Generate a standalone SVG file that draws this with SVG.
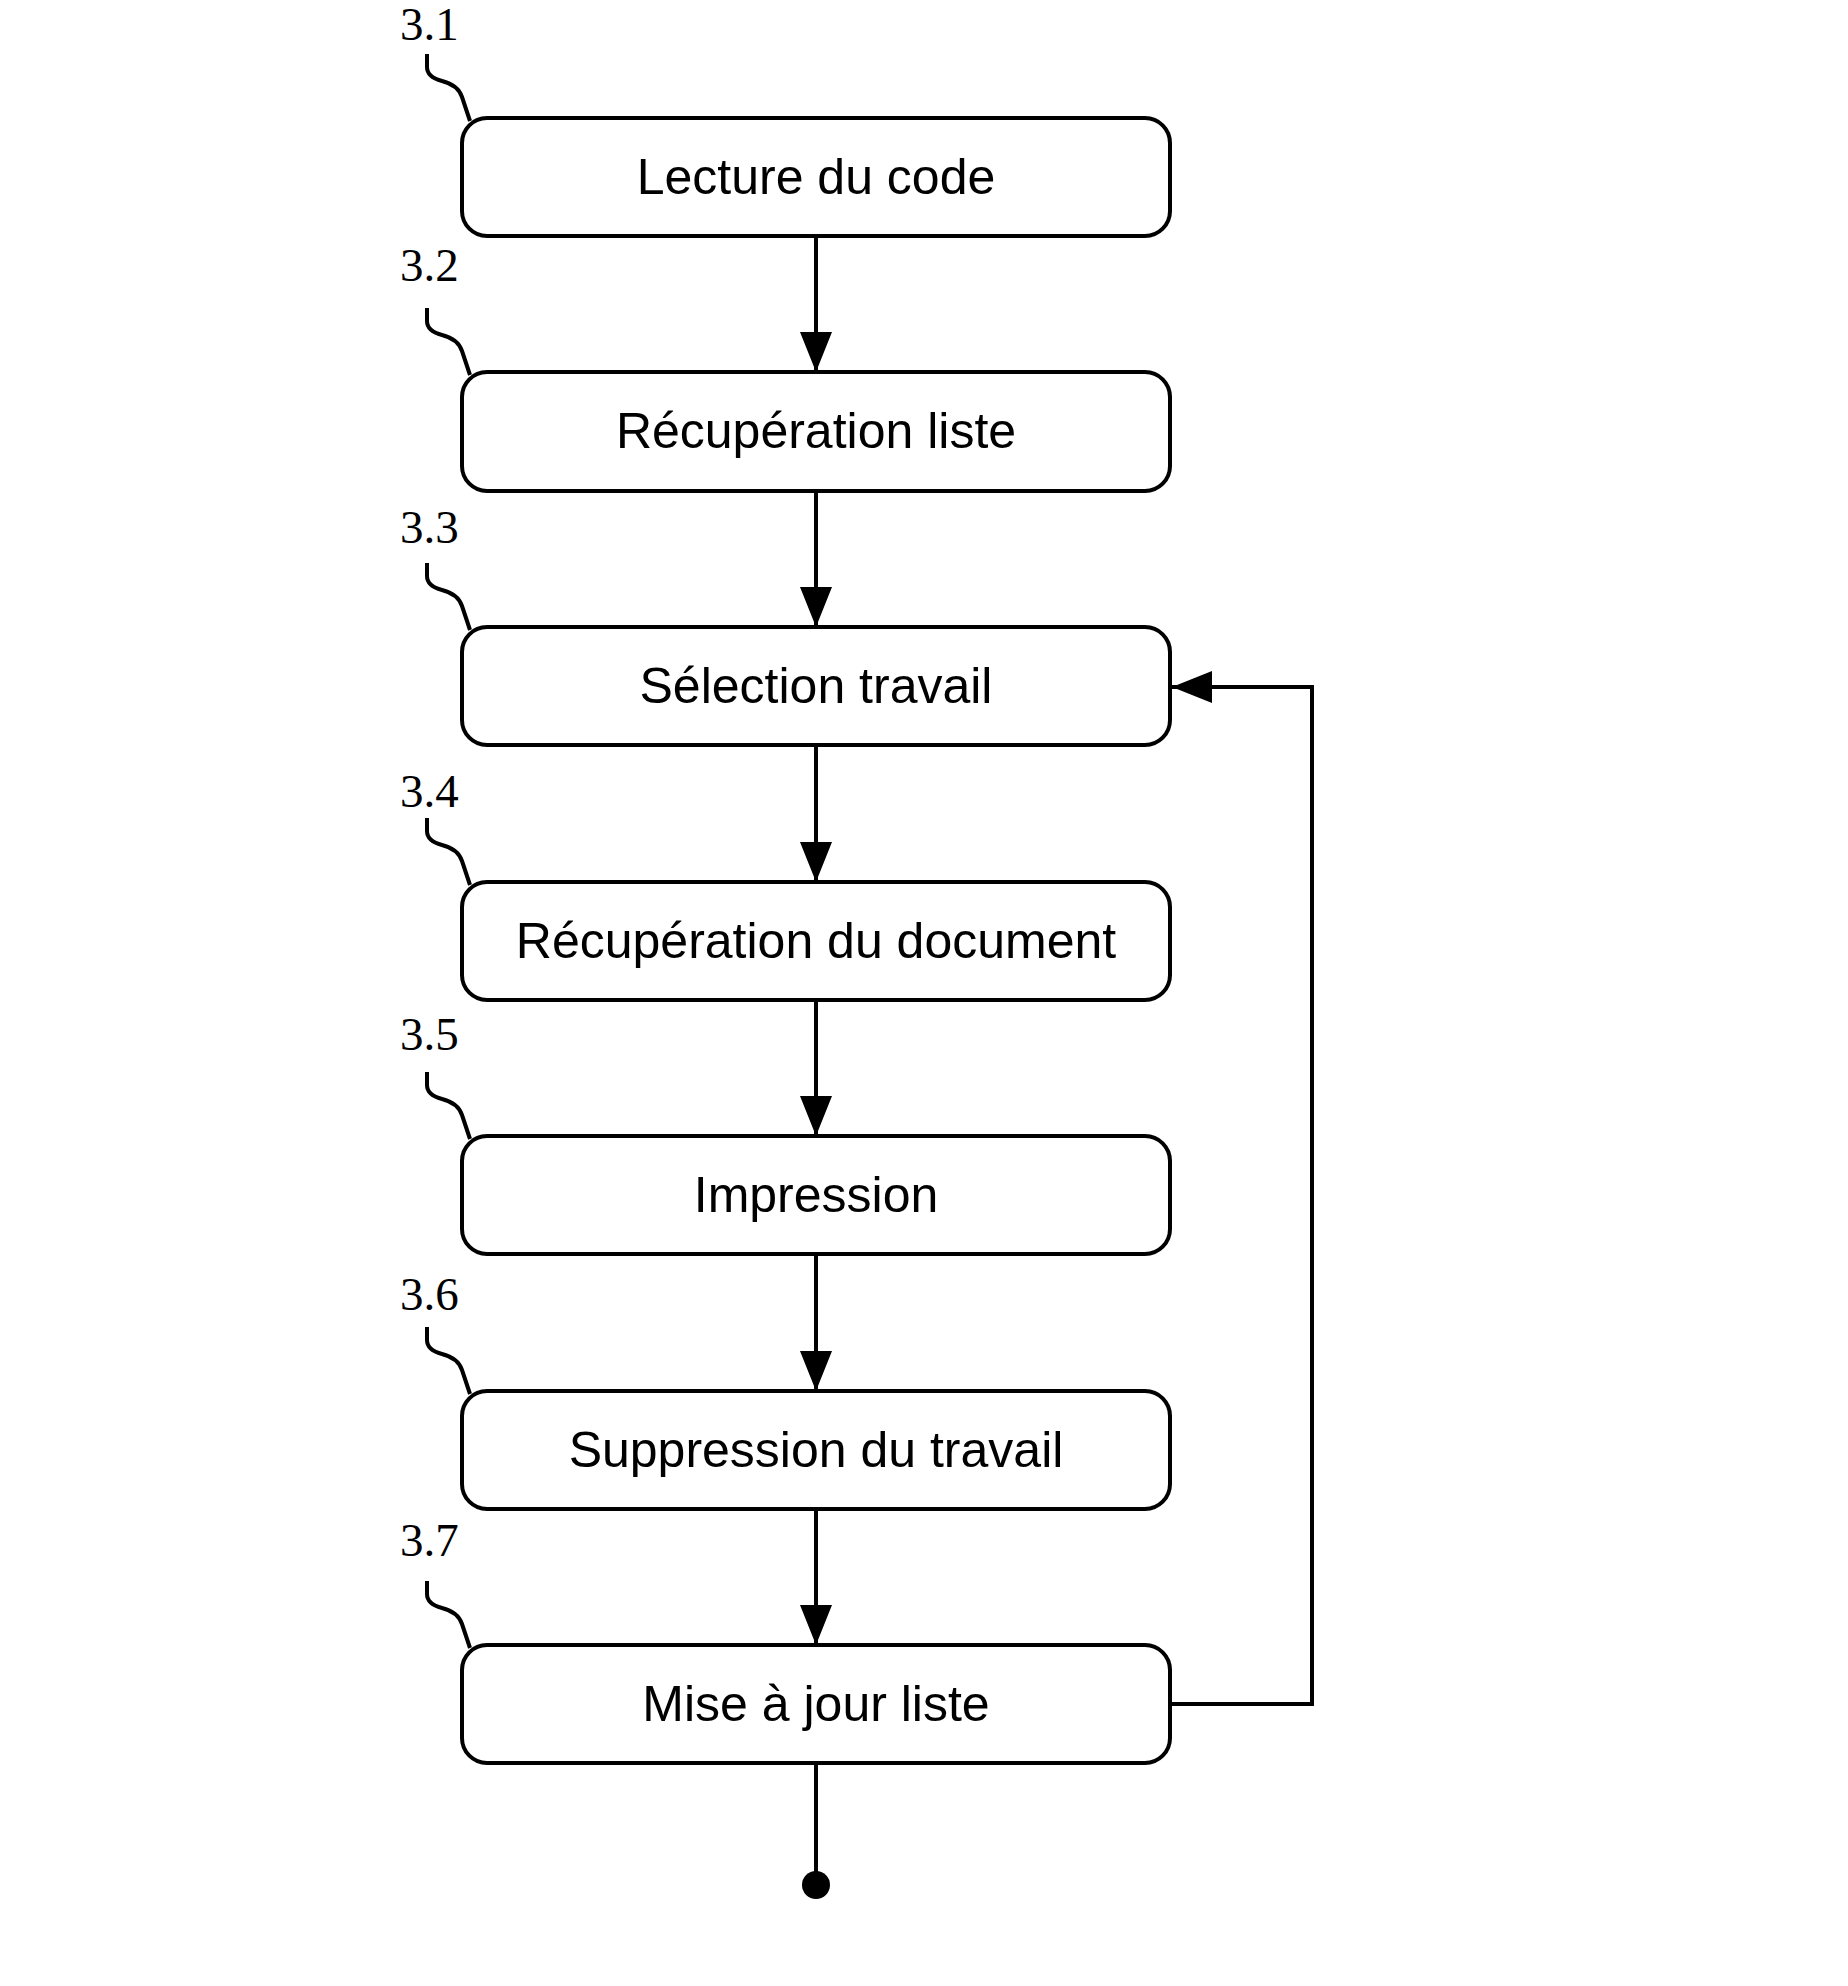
<svg xmlns="http://www.w3.org/2000/svg" width="1848" height="1986" viewBox="0 0 1848 1986">
<style>
.b{fill:#fff;stroke:#000;stroke-width:4}
.t{font-family:"Liberation Sans",Arial,sans-serif;font-size:50px;text-anchor:middle;dominant-baseline:central}
.n{font-family:"Liberation Serif","Times New Roman",serif;font-size:47px}
.s{fill:none;stroke:#000;stroke-width:4}
.c{fill:none;stroke:#000;stroke-width:4}
</style>
<defs>
<marker id="a" markerUnits="userSpaceOnUse" markerWidth="40" markerHeight="32" refX="40" refY="16" orient="auto" viewBox="0 0 40 32"><path d="M0,0 L40,16 L0,32 Z" fill="#000"/></marker>
</defs>
<rect width="1848" height="1986" fill="#fff"/>
<g transform="translate(0,-3)">
<g id="connectors">
<path class="c" d="M816,239 V375" marker-end="url(#a)"/>
<path class="c" d="M816,494 V630" marker-end="url(#a)"/>
<path class="c" d="M816,748 V885" marker-end="url(#a)"/>
<path class="c" d="M816,1003 V1139" marker-end="url(#a)"/>
<path class="c" d="M816,1257 V1394" marker-end="url(#a)"/>
<path class="c" d="M816,1512 V1648" marker-end="url(#a)"/>
<path class="c" d="M1170,1707 H1312 V690 H1172" marker-end="url(#a)"/>
<path class="c" d="M816,1766 V1888"/>
<circle cx="816" cy="1888" r="14" fill="#000"/>
</g>
<g id="n1"><text class="n" x="400" y="43">3.1</text><path class="s" d="M427,57 V70 Q427,80 442,84 Q458,88 462,100 L470,124"/><rect class="b" x="462" y="121" width="708" height="118" rx="25"/><text class="t" x="816" y="180">Lecture du code</text></g>
<g id="n2"><text class="n" x="400" y="284">3.2</text><path class="s" d="M427,311 V324 Q427,334 442,338 Q458,342 462,354 L470,378"/><rect class="b" x="462" y="375" width="708" height="119" rx="25"/><text class="t" x="816" y="434">Récupération liste</text></g>
<g id="n3"><text class="n" x="400" y="546">3.3</text><path class="s" d="M427,566 V579 Q427,589 442,593 Q458,597 462,609 L470,633"/><rect class="b" x="462" y="630" width="708" height="118" rx="25"/><text class="t" x="816" y="689">Sélection travail</text></g>
<g id="n4"><text class="n" x="400" y="810">3.4</text><path class="s" d="M427,821 V834 Q427,844 442,848 Q458,852 462,864 L470,888"/><rect class="b" x="462" y="885" width="708" height="118" rx="25"/><text class="t" x="816" y="944">Récupération du document</text></g>
<g id="n5"><text class="n" x="400" y="1053">3.5</text><path class="s" d="M427,1075 V1088 Q427,1098 442,1102 Q458,1106 462,1118 L470,1142"/><rect class="b" x="462" y="1139" width="708" height="118" rx="25"/><text class="t" x="816" y="1198">Impression</text></g>
<g id="n6"><text class="n" x="400" y="1313">3.6</text><path class="s" d="M427,1330 V1343 Q427,1353 442,1357 Q458,1361 462,1373 L470,1397"/><rect class="b" x="462" y="1394" width="708" height="118" rx="25"/><text class="t" x="816" y="1453">Suppression du travail</text></g>
<g id="n7"><text class="n" x="400" y="1559">3.7</text><path class="s" d="M427,1584 V1597 Q427,1607 442,1611 Q458,1615 462,1627 L470,1651"/><rect class="b" x="462" y="1648" width="708" height="118" rx="25"/><text class="t" x="816" y="1707">Mise à jour liste</text></g>
</g>
</svg>
